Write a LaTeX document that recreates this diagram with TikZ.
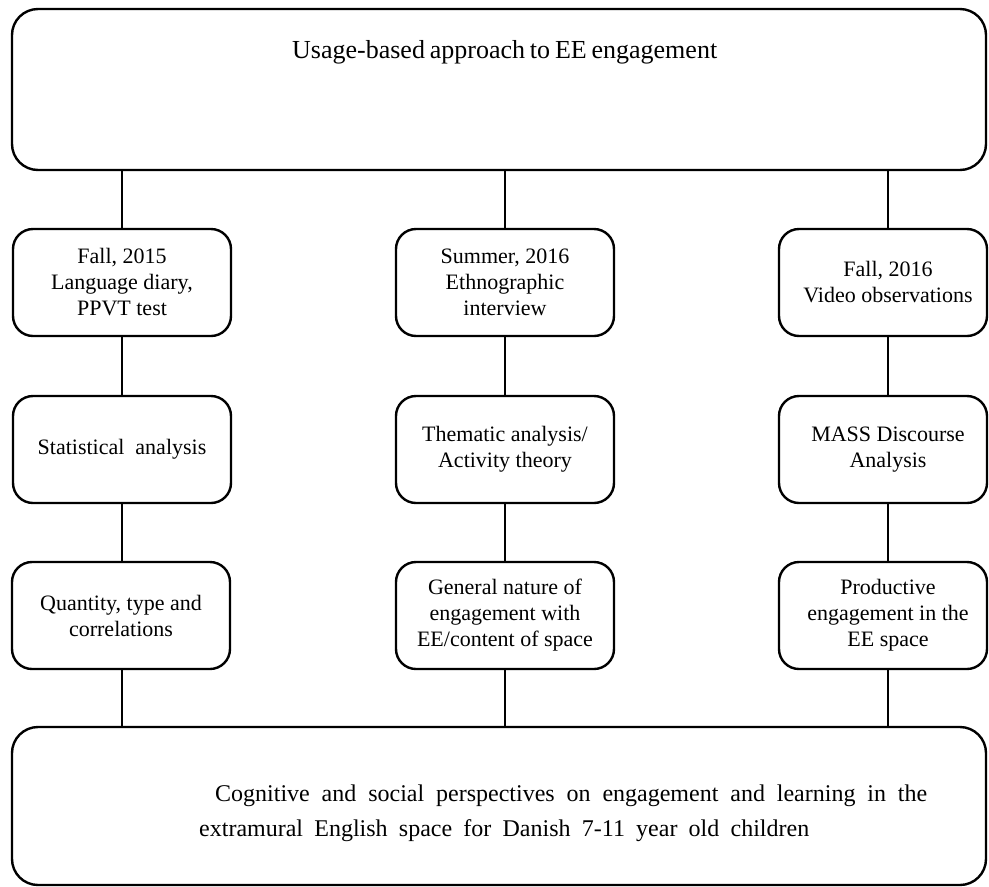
\documentclass[tikz,border=0pt]{standalone}
\usepackage{fontspec}
\setmainfont{Liberation Serif}
\begin{document}
\begin{tikzpicture}[x=1pt,y=-1pt,
  lw/.style={line width=2.4pt},
  bigbox/.style={draw,lw,rectangle,rounded corners=26pt,inner sep=0pt,anchor=center},
  stepbox/.style={draw,lw,rectangle,rounded corners=20pt,inner sep=0pt,anchor=center,
    minimum height=107pt,align=center,font=\fontsize{22}{26}\selectfont},
  conn/.style={lw}]
\useasboundingbox (0,0) rectangle (989,887);
\fill[white] (0,0) rectangle (989,887);

% columns
\coordinate (cL) at (122,0);
\coordinate (cM) at (505,0);
\coordinate (cR) at (888,0);

% top and bottom boxes
\node[bigbox,minimum width=974pt,minimum height=161pt] (top) at (499,89.5) {};
\node[bigbox,minimum width=974pt,minimum height=158pt] (bot) at (499,806) {};

% row 1
\node[stepbox,minimum width=218pt] (r1L) at (122,282.5) {Fall, 2015\\Language diary,\\PPVT test};
\node[stepbox,minimum width=218pt] (r1M) at (505,282.5) {Summer, 2016\\Ethnographic\\interview};
\node[stepbox,minimum width=208pt] (r1R) at (883,282.5) {\hspace*{10pt}Fall, 2016\\\hspace*{10pt}Video observations};

% row 2
\node[stepbox,minimum width=218pt] (r2L) at (122,449.5) {Statistical\ \ analysis};
\node[stepbox,minimum width=218pt] (r2M) at (505,449.5) {Thematic analysis/\\Activity theory};
\node[stepbox,minimum width=208pt] (r2R) at (883,449.5) {\hspace*{10pt}MASS Discourse\\\hspace*{10pt}Analysis};

% row 3
\node[stepbox,minimum width=218pt] (r3L) at (121,615.5) {Quantity, type and\\correlations};
\node[stepbox,minimum width=218pt] (r3M) at (505,615.5) {General nature of\\engagement with\\EE/content of space};
\node[stepbox,minimum width=208pt] (r3R) at (883,615.5) {\hspace*{10pt}Productive\\\hspace*{10pt}engagement in the\\\hspace*{10pt}EE space};

% texts in big boxes
\node[anchor=base west,inner sep=0pt,font=\fontsize{26}{30}\selectfont] (toptext) at (292,58)
  {\makebox[425pt][s]{Usage-based approach to EE engagement}};
\node[anchor=base west,inner sep=0pt,font=\fontsize{24}{30}\selectfont] (bottext1) at (215,801.7)
  {\makebox[712pt][s]{Cognitive and social perspectives on engagement and learning in the}};
\node[anchor=base west,inner sep=0pt,font=\fontsize{24}{30}\selectfont] (bottext2) at (199,836.7)
  {\makebox[610pt][s]{extramural English space for Danish 7-11 year old children}};

% connectors
\draw[conn] (top.south -| cL) -- (r1L.north -| cL);
\draw[conn] (top.south -| cM) -- (r1M.north -| cM);
\draw[conn] (top.south -| cR) -- (r1R.north -| cR);
\draw[conn] (r1L.south -| cL) -- (r2L.north -| cL);
\draw[conn] (r1M.south -| cM) -- (r2M.north -| cM);
\draw[conn] (r1R.south -| cR) -- (r2R.north -| cR);
\draw[conn] (r2L.south -| cL) -- (r3L.north -| cL);
\draw[conn] (r2M.south -| cM) -- (r3M.north -| cM);
\draw[conn] (r2R.south -| cR) -- (r3R.north -| cR);
\draw[conn] (r3L.south -| cL) -- (bot.north -| cL);
\draw[conn] (r3M.south -| cM) -- (bot.north -| cM);
\draw[conn] (r3R.south -| cR) -- (bot.north -| cR);
\end{tikzpicture}
\end{document}
